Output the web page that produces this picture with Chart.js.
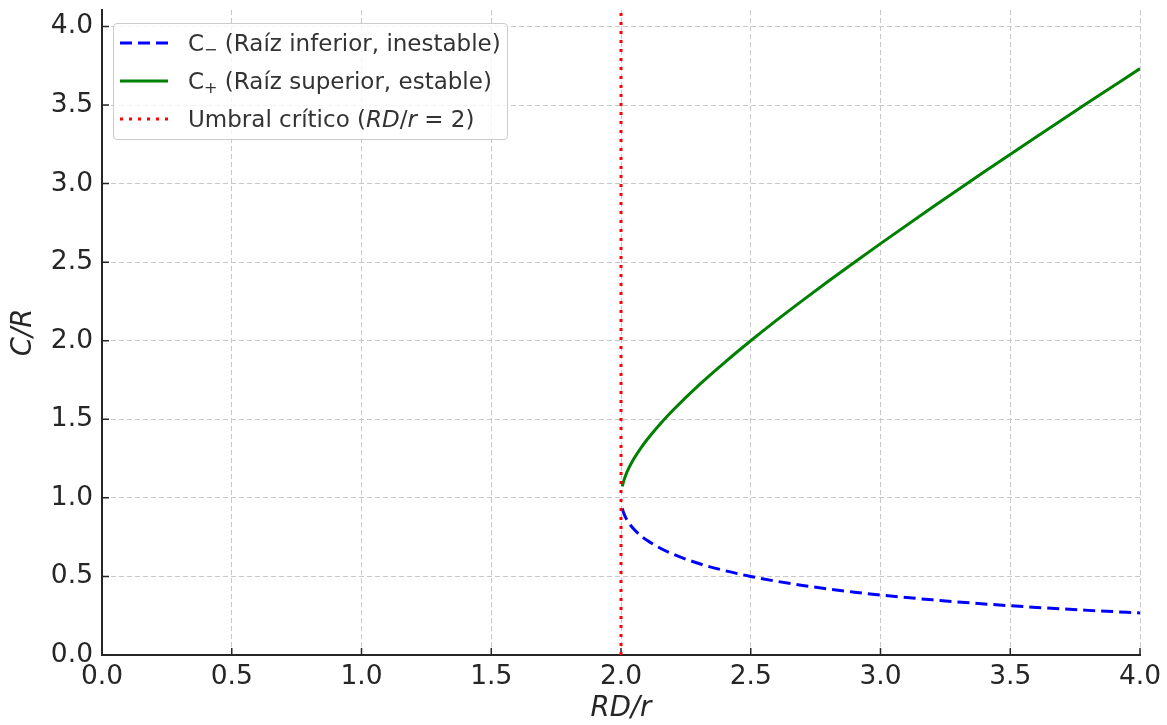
<!DOCTYPE html>
<html lang="es">
<head>
<meta charset="utf-8">
<title>Bifurcación C/R</title>
<script src="https://cdn.jsdelivr.net/npm/chart.js@4.4.1/dist/chart.umd.min.js"></script>
<style>
  body { margin: 0; background: #fff; font-family: 'DejaVu Sans', sans-serif; }
  #wrap { position: relative; width: 1167px; height: 725px; }
  #legend {
    position: absolute; left: 113px; top: 23px; width: 395px; height: 117px;
    box-sizing: border-box; border: 1px solid #cccccc; border-radius: 4px;
    background: rgba(255, 255, 255, 0.8);
  }
  .item { position: relative; height: 38px; line-height: 38px; font-size: 23px; color: #333; white-space: nowrap; }
  .item svg { position: absolute; left: 6px; top: 14px; }
  .item span { position: absolute; left: 74px; }
  sub { font-size: 70%; line-height: 0; vertical-align: -0.25em; }
</style>
</head>
<body>
<div id="wrap">
  <canvas id="chart" width="1167" height="725"></canvas>
  <div id="legend"></div>
</div>
<script>
// values
const rdr    = [2.005, 2.01, 2.02, 2.03, 2.05, 2.075, 2.1, 2.15, 2.2, 2.3, 2.4, 2.5, 2.6, 2.7, 2.8, 2.9, 3.0, 3.2, 3.4, 3.6, 3.8, 4.0];
const cMinus = [0.932, 0.905, 0.868, 0.841, 0.800, 0.761, 0.730, 0.681, 0.642, 0.582, 0.537, 0.500, 0.469, 0.443, 0.420, 0.400, 0.382, 0.351, 0.325, 0.303, 0.284, 0.268];
const cPlus  = [1.073, 1.105, 1.152, 1.189, 1.250, 1.314, 1.370, 1.469, 1.558, 1.718, 1.863, 2.000, 2.131, 2.257, 2.380, 2.500, 2.618, 2.849, 3.075, 3.297, 3.516, 3.732];
const thresholdX = [2, 2];
const thresholdY = [0, 4.105];

const xTicks = [0, 0.5, 1.0, 1.5, 2.0, 2.5, 3.0, 3.5, 4.0];
const yTicks = [0, 0.5, 1.0, 1.5, 2.0, 2.5, 3.0, 3.5, 4.0];

const seriesLabels = [
    'C− (Raíz inferior, inestable)',
    'C+ (Raíz superior, estable)',
    'Umbral crítico (RD/r = 2)'
];
const legendLabels = [
    'C<sub>−</sub> (Raíz inferior, inestable)',
    'C<sub>+</sub> (Raíz superior, estable)',
    'Umbral crítico (<i>RD</i>/<i>r</i> = 2)'
];

const FONT = "'DejaVu Sans', sans-serif";
const INK = '#262626';

const toPoints = (xs, ys) => xs.map((x, i) => ({ x: x, y: ys[i] }));

const datasets = [
    {
        label: seriesLabels[0],
        data: toPoints(rdr, cMinus),
        borderColor: '#0000ff',
        borderWidth: 3,
        borderDash: [12, 6],
        cubicInterpolationMode: 'monotone',
        pointRadius: 0,
        fill: false,
        order: 3
    },
    {
        label: seriesLabels[1],
        data: toPoints(rdr, cPlus),
        borderColor: '#008000',
        borderWidth: 3,
        cubicInterpolationMode: 'monotone',
        pointRadius: 0,
        fill: false,
        order: 2
    },
    {
        label: seriesLabels[2],
        data: toPoints(thresholdX, thresholdY),
        borderColor: '#ff0000',
        borderWidth: 3,
        borderDash: [3, 6],
        borderCapStyle: 'butt',
        pointRadius: 0,
        fill: false,
        order: 1
    }
];

// short tick marks pointing into the plot, like the original
const innerTicks = {
    id: 'innerTicks',
    beforeDatasetsDraw(chart) {
        const { ctx, chartArea, scales } = chart;
        ctx.save();
        ctx.strokeStyle = INK;
        ctx.lineWidth = 1.5;
        ctx.beginPath();
        xTicks.forEach(v => {
            const px = scales.x.getPixelForValue(v);
            ctx.moveTo(px, chartArea.bottom);
            ctx.lineTo(px, chartArea.bottom - 7);
        });
        yTicks.forEach(v => {
            const py = scales.y.getPixelForValue(v);
            ctx.moveTo(chartArea.left, py);
            ctx.lineTo(chartArea.left + 7, py);
        });
        ctx.stroke();
        ctx.restore();
    }
};

function buildLegend() {
    const box = document.getElementById('legend');
    datasets.forEach((ds, i) => {
        const row = document.createElement('div');
        row.className = 'item';
        const dash = ds.borderDash ? ds.borderDash.join(' ') : 'none';
        row.innerHTML =
            '<svg width="48" height="10"><line x1="0" y1="5" x2="48" y2="5" stroke="' + ds.borderColor +
            '" stroke-width="' + ds.borderWidth + '" stroke-dasharray="' + dash + '"/></svg>' +
            '<span>' + legendLabels[i] + '</span>';
        box.appendChild(row);
    });
}

new Chart(document.getElementById('chart'), {
    type: 'line',
    data: { datasets: datasets },
    options: {
        responsive: false,
        animation: false,
        layout: { padding: { top: 10, right: 27, left: 0, bottom: 0 } },
        plugins: {
            legend: { display: false },
            tooltip: { enabled: false }
        },
        scales: {
            x: {
                type: 'linear',
                min: 0,
                max: 4,
                afterBuildTicks: s => { s.ticks = xTicks.map(v => ({ value: v })); },
                afterFit: s => { s.height = 70; s.paddingLeft = 0; s.paddingRight = 0; },
                grid: { color: '#c8c8c8', lineWidth: 1, drawTicks: false },
                border: { display: true, color: INK, width: 2, dash: [5, 3] },
                ticks: {
                    color: INK,
                    padding: 6,
                    maxRotation: 0,
                    font: { family: FONT, size: 26.5 },
                    callback: v => Number(v).toFixed(1)
                },
                title: {
                    display: true,
                    text: 'RD/r',
                    color: INK,
                    padding: { top: 0, bottom: 0 },
                    font: { family: FONT, size: 27.5, style: 'italic' }
                }
            },
            y: {
                type: 'linear',
                min: 0,
                max: 4.105,
                afterBuildTicks: s => { s.ticks = yTicks.map(v => ({ value: v })); },
                afterFit: s => { s.width = 102; s.paddingTop = 0; s.paddingBottom = 0; },
                grid: { color: '#c8c8c8', lineWidth: 1, drawTicks: false },
                border: { display: true, color: INK, width: 2, dash: [5, 3] },
                ticks: {
                    color: INK,
                    padding: 9,
                    font: { family: FONT, size: 26.5 },
                    callback: v => Number(v).toFixed(1)
                },
                title: {
                    display: true,
                    text: 'C/R',
                    color: INK,
                    padding: { top: 7, bottom: 0 },
                    font: { family: FONT, size: 27.5, style: 'italic' }
                }
            }
        }
    },
    plugins: [innerTicks]
});

buildLegend();
</script>
</body>
</html>
